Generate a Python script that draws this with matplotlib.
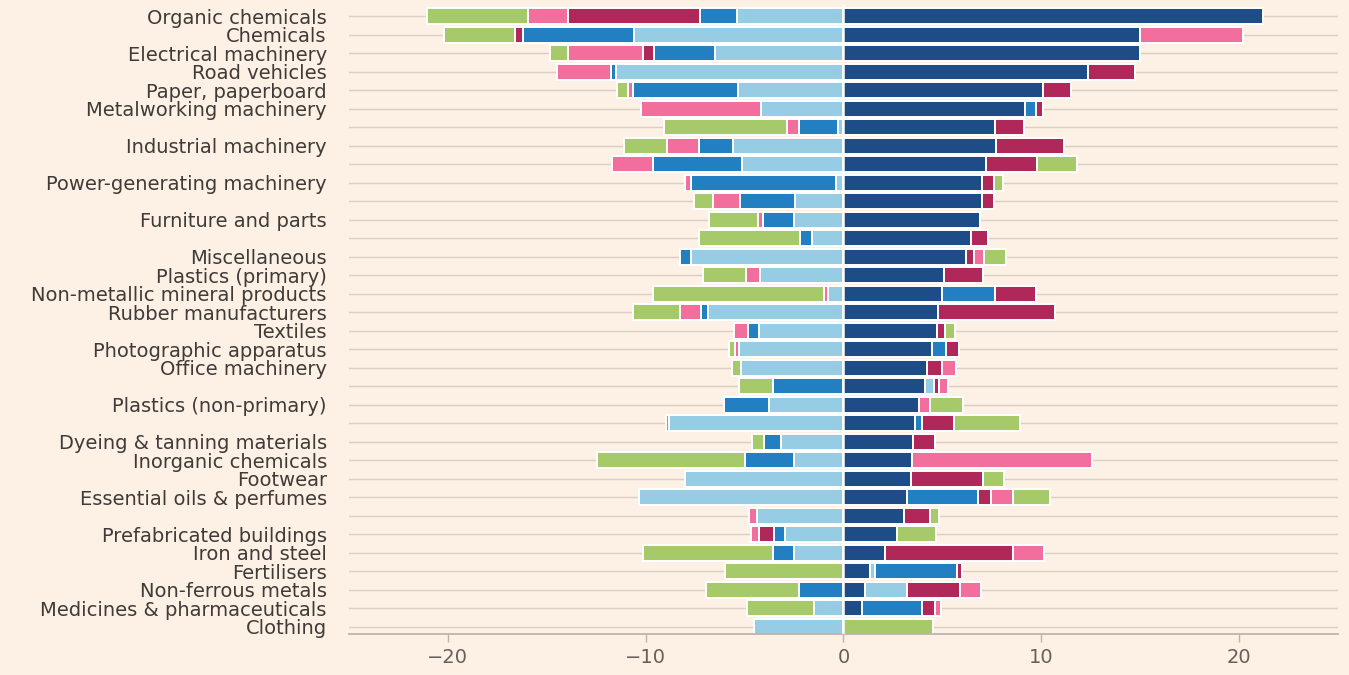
import numpy as np
import matplotlib.pyplot as plt

# product groups, top to bottom (blank rows have no label in the original)
labels = [
    "Organic chemicals", "Chemicals", "Electrical machinery", "Road vehicles",
    "Paper, paperboard", "Metalworking machinery", "", "Industrial machinery",
    "", "Power-generating machinery", "", "Furniture and parts", "",
    "Miscellaneous", "Plastics (primary)", "Non-metallic mineral products",
    "Rubber manufacturers", "Textiles", "Photographic apparatus",
    "Office machinery", "", "Plastics (non-primary)", "",
    "Dyeing & tanning materials", "Inorganic chemicals", "Footwear",
    "Essential oils & perfumes", "", "Prefabricated buildings",
    "Iron and steel", "Fertilisers", "Non-ferrous metals",
    "Medicines & pharmaceuticals", "Clothing",
]

# one value per row for each of the six series
dark_blue = [21.2, 15.0, 15.0, 12.35, 10.1, 9.2, 7.65, 7.7, 7.2, 7.0, 7.0, 6.9,
             6.45, 6.2, 5.1, 5.0, 4.8, 4.75, 4.5, 4.2, 4.1, 3.8, 3.6, 3.5,
             3.45, 3.4, 3.2, 3.05, 2.7, 2.1, 1.35, 1.1, 0.95, 0.0]
light_blue = [-5.4, -10.6, -6.5, -11.5, -5.35, -4.15, -0.3, -5.6, -5.15, -0.4,
              -2.45, -2.5, -1.6, -7.7, -4.2, -0.8, -6.85, -4.25, -5.3, -5.2,
              0.5, -3.75, -8.8, -3.15, -2.5, -8.0, -10.35, -4.35, -2.95, -2.5,
              0.25, 2.1, -1.5, -4.5]
mid_blue = [-1.85, -5.6, -3.1, -0.25, -5.3, 0.55, -1.95, -1.7, -4.5, -7.3,
            -2.8, -1.55, -0.6, -0.55, 0.0, 2.65, -0.35, -0.6, 0.7, 0.0,
            -3.55, -2.3, 0.35, -0.85, -2.5, 0.0, 3.6, 0.0, -0.55, -1.05,
            4.15, -2.25, 3.0, 0.0]
maroon = [-6.7, -0.4, -0.55, 2.4, 1.4, 0.35, 1.5, 3.45, 2.6, 0.6, 0.6, 0.0,
          0.85, 0.4, 1.95, 2.1, 5.9, 0.4, 0.65, 0.8, 0.25, 0.0, 1.65, 1.15,
          0.0, 3.65, 0.65, 1.35, -0.75, 6.45, 0.25, 2.7, 0.7, 0.0]
pink = [-2.0, 5.2, -3.8, -2.75, -0.25, -6.1, -0.6, -1.6, -2.05, -0.3, -1.35,
        -0.25, 0.0, 0.5, -0.75, -0.2, -1.05, -0.7, -0.2, 0.7, 0.45, 0.6,
        -0.15, 0.0, 9.1, 0.0, 1.1, -0.45, -0.4, 1.6, 0.0, 1.05, 0.3, 0.0]
green = [-5.1, -3.6, -0.9, 0.0, -0.55, 0.0, -6.2, -2.2, 2.0, 0.45, -0.95,
         -2.5, -5.1, 1.1, -2.15, -8.65, -2.4, 0.5, -0.3, -0.45, -1.75, 1.65,
         3.35, -0.6, -7.45, 1.05, 1.9, 0.45, 2.0, -6.6, -6.0, -4.7, -3.4, 4.55]

series = [dark_blue, light_blue, mid_blue, maroon, pink, green]
colors = ["#1d4c86", "#96cde4", "#2280c2", "#b0285a", "#f26e9d", "#a6c96a"]

bg = "#fdf0e5"
fig = plt.figure(figsize=(13.49, 6.75), dpi=100, facecolor=bg)
ax = fig.add_axes([0.2587, 0.0607, 0.7331, 0.9319], facecolor=bg)

y = np.arange(len(labels))

# row guide lines behind the bars
for yi in y:
    ax.axhline(yi, color="#d9cfc5", lw=1.0, zorder=0)

pos = np.zeros(len(labels))
neg = np.zeros(len(labels))
for vals, c in zip(series, colors):
    v = np.array(vals)
    left = np.where(v >= 0, pos, neg)
    ax.barh(y, v, left=left, height=0.86, color=c, edgecolor="white",
            linewidth=1.4, zorder=2)
    pos = pos + np.where(v > 0, v, 0)
    neg = neg + np.where(v < 0, v, 0)

ax.axvline(0, color="white", lw=1.8, zorder=3)

ax.set_xlim(-25, 25)
ax.set_ylim(33.4, -0.6)
ax.set_yticks(y)
ax.set_yticklabels(labels, fontsize=14, color="#3f3b38")
ax.tick_params(axis="y", length=0, pad=16)
ax.set_xticks([-20, -10, 0, 10, 20])
ax.set_xticklabels(["−20", "−10", "0", "10", "20"], fontsize=14, color="#66605b")
ax.tick_params(axis="x", length=6, width=1, color="#bdb4ab", pad=4)

for s in ["top", "right", "left"]:
    ax.spines[s].set_visible(False)
ax.spines["bottom"].set_color("#bdb4ab")
ax.spines["bottom"].set_linewidth(1.3)

fig.savefig("out.png", dpi=100, facecolor=bg)
